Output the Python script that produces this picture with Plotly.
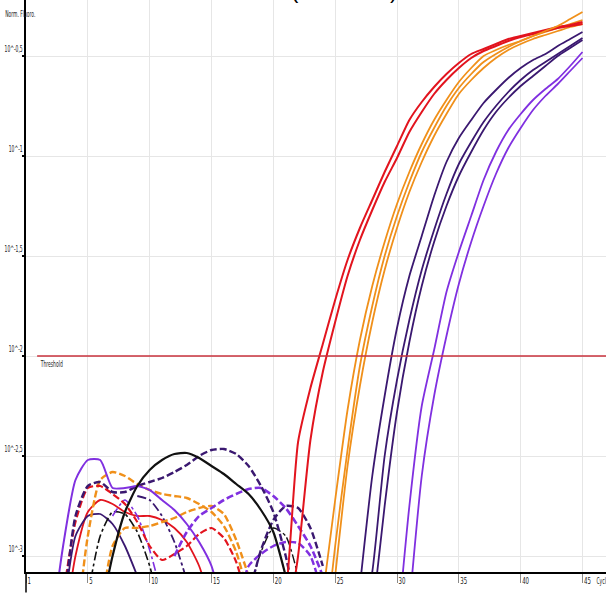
import numpy as np
import plotly.graph_objects as go

# ---------------- data (log10 of normalised fluorescence, read per cycle) ----------------
x_tick_vals = [0, 5, 10, 15, 20, 25, 30, 35, 40, 45]
x_tick_text = ["1", "5", "10", "15", "20", "25", "30", "35", "40", "45"]
y_tick_exp = [-0.5, -1, -1.5, -2, -2.5, -3]
y_tick_text = ["10^-0,5", "10^-1", "10^-1,5", "10^-2", "10^-2,5", "10^-3"]
threshold_value = 0.01

# amplification curves: (first cycle, values)
amp_red_1_start = 20
amp_red_1 = [-3.5, -3.2, -2.43, -2.16, -1.94, -1.72, -1.52, -1.36, -1.22, -1.08, -0.95, -0.82, -0.73,
             -0.655, -0.59, -0.535, -0.49, -0.465, -0.44, -0.415, -0.40, -0.385, -0.37, -0.355, -0.345, -0.33]
amp_red_2_start = 21
amp_red_2 = [-3.4, -3.0, -2.42, -2.08, -1.83, -1.6, -1.42, -1.27, -1.13, -1.01, -0.88, -0.78, -0.69,
             -0.62, -0.56, -0.51, -0.475, -0.45, -0.425, -0.405, -0.39, -0.375, -0.36, -0.35, -0.34]
amp_orange_1_start = 24
amp_orange_1 = [-3.2, -2.72, -2.27, -1.92, -1.65, -1.43, -1.24, -1.08, -0.94, -0.82, -0.72, -0.63, -0.56,
                -0.5, -0.47, -0.445, -0.425, -0.40, -0.375, -0.35, -0.315, -0.28]
amp_orange_2_start = 24
amp_orange_2 = [-3.5, -2.95, -2.47, -2.05, -1.75, -1.5, -1.3, -1.13, -0.98, -0.86, -0.75, -0.66, -0.59,
                -0.53, -0.49, -0.455, -0.425, -0.40, -0.38, -0.36, -0.34, -0.32]
amp_orange_3_start = 25
amp_orange_3 = [-3.1, -2.55, -2.15, -1.83, -1.57, -1.36, -1.18, -1.03, -0.9, -0.79, -0.69, -0.62, -0.56,
                -0.51, -0.47, -0.44, -0.415, -0.395, -0.375, -0.355, -0.34]
amp_dark_1_start = 27
amp_dark_1 = [-3.15, -2.6, -2.2, -1.86, -1.6, -1.4, -1.2, -1.03, -0.91, -0.82, -0.735, -0.67, -0.61,
              -0.56, -0.52, -0.49, -0.45, -0.415, -0.38]
amp_dark_2_start = 27
amp_dark_2 = [-3.4, -3.08, -2.5, -2.12, -1.82, -1.57, -1.37, -1.19, -1.04, -0.93, -0.83, -0.75, -0.68,
              -0.62, -0.57, -0.53, -0.49, -0.45, -0.41]
amp_dark_3_start = 28
amp_dark_3 = [-3.3, -2.75, -2.28, -1.93, -1.65, -1.43, -1.25, -1.1, -0.98, -0.87, -0.78, -0.71, -0.65,
              -0.6, -0.55, -0.5, -0.46, -0.42]
amp_purple_1_start = 30
amp_purple_1 = [-3.4, -2.75, -2.25, -1.97, -1.68, -1.48, -1.3, -1.12, -0.98, -0.87, -0.79, -0.72,
                -0.665, -0.615, -0.55, -0.48]
amp_purple_2_start = 31
amp_purple_2 = [-3.25, -2.6, -2.2, -1.9, -1.64, -1.43, -1.25, -1.09, -0.96, -0.86, -0.77, -0.7, -0.64,
                -0.575, -0.51]

# negative / baseline traces
base_purple_a_start = 2
base_purple_a = [-3.4, -2.95, -2.62, -2.52, -2.52, -2.66, -2.66, -2.65, -2.67, -2.72, -2.77, -2.84,
                 -2.93, -3.05, -3.3]
base_black_a_start = 6
base_black_a = [-3.3, -3.0, -2.78, -2.65, -2.57, -2.52, -2.49, -2.485, -2.51, -2.55, -2.59, -2.64,
                -2.69, -2.77, -2.88, -3.1]
base_dark_a_start = 3
base_dark_a = [-3.3, -2.8, -2.65, -2.63, -2.68, -2.68, -2.65, -2.63, -2.61, -2.58, -2.545, -2.5, -2.47,
               -2.465, -2.49, -2.55, -2.65, -2.78, -3.0, -3.3]
base_purple_b_start = 12
base_purple_b = [-3.0, -2.88, -2.8, -2.76, -2.72, -2.69, -2.665, -2.66, -2.7, -2.76, -2.85, -2.95, -3.1]
base_dark_b_start = 18
base_dark_b = [-3.2, -2.97, -2.82, -2.75, -2.76, -2.86, -3.05]
base_purple_c_start = 17
base_purple_c = [-3.3, -3.05, -2.99, -2.95, -2.93, -2.935, -3.0, -3.2]
base_orange_a_start = 4
base_orange_a = [-3.4, -2.9, -2.62, -2.58, -2.6, -2.64, -2.67, -2.69, -2.7, -2.71, -2.74, -2.78,
                 -2.85, -2.98, -3.2]
base_orange_b_start = 6
base_orange_b = [-3.3, -2.95, -2.86, -2.86, -2.85, -2.83, -2.81, -2.78, -2.76, -2.75, -2.79, -2.92, -3.1]
base_red_a_start = 3
base_red_a = [-3.2, -2.83, -2.66, -2.65, -2.69, -2.74, -2.83, -2.95, -3.02, -2.99, -2.95, -2.89, -2.86,
              -2.91, -3.03, -3.25]
base_red_b_start = 3
base_red_b = [-3.4, -3.0, -2.78, -2.72, -2.74, -2.78, -2.8, -2.8, -2.82, -2.86, -2.93, -3.05, -3.25]
base_dark_c_start = 3
base_dark_c = [-3.3, -2.9, -2.8, -2.79, -2.84, -2.95, -3.1]
base_black_b_start = 5
base_black_b = [-3.2, -2.9, -2.78, -2.79, -2.88, -3.05, -3.3]
base_purple_d_start = 7
base_purple_d = [-2.8, -2.72, -2.8, -2.97, -3.2]
base_dark_d_start = 9
base_dark_d = [-2.7, -2.72, -2.8, -2.93, -3.12]
base_black_c_start = 18
base_black_c = [-3.2, -2.98, -2.86, -2.9, -3.1]

# ---------------- styling ----------------
RED = "#e2141e"
ORANGE = "#f0901a"
DARK = "#3a1870"
PURPLE = "#8030e0"
BLACK = "#111111"
NARROW = "Liberation Sans Narrow, DejaVu Sans Condensed, Arial Narrow, sans-serif"

fig = go.Figure()


def add_curve(start, values, color, width=1.8, dash="solid"):
    cyc = np.arange(start, start + len(values))
    fig.add_trace(go.Scatter(
        x=cyc, y=10 ** np.array(values, dtype=float), mode="lines",
        line=dict(color=color, width=width, dash=dash, shape="spline", smoothing=0.6),
        hoverinfo="skip", showlegend=False))


DASH = "7px,3px"
# baseline curves
add_curve(base_red_b_start, base_red_b, RED, 1.8, "solid")
add_curve(base_dark_c_start, base_dark_c, DARK, 1.8, "solid")
add_curve(base_black_b_start, base_black_b, BLACK, 1.6, "dashdot")
add_curve(base_black_c_start, base_black_c, BLACK, 1.4, "dashdot")
add_curve(base_purple_d_start, base_purple_d, PURPLE, 1.6, "dashdot")
add_curve(base_dark_d_start, base_dark_d, DARK, 1.8, "dashdot")
add_curve(base_orange_b_start, base_orange_b, ORANGE, 2.4, DASH)
add_curve(base_orange_a_start, base_orange_a, ORANGE, 2.4, DASH)
add_curve(base_red_a_start, base_red_a, RED, 2.2, DASH)
add_curve(base_purple_c_start, base_purple_c, PURPLE, 2.4, DASH)
add_curve(base_dark_b_start, base_dark_b, DARK, 2.4, DASH)
add_curve(base_purple_b_start, base_purple_b, PURPLE, 2.6, DASH)
add_curve(base_dark_a_start, base_dark_a, DARK, 2.4, DASH)
add_curve(base_purple_a_start, base_purple_a, PURPLE, 2.0, "solid")
add_curve(base_black_a_start, base_black_a, BLACK, 2.2, "solid")

# amplification curves
add_curve(amp_purple_2_start, amp_purple_2, PURPLE)
add_curve(amp_purple_1_start, amp_purple_1, PURPLE)
add_curve(amp_dark_3_start, amp_dark_3, DARK)
add_curve(amp_dark_2_start, amp_dark_2, DARK)
add_curve(amp_dark_1_start, amp_dark_1, DARK)
add_curve(amp_orange_3_start, amp_orange_3, ORANGE)
add_curve(amp_orange_2_start, amp_orange_2, ORANGE)
add_curve(amp_red_2_start, amp_red_2, RED, 2.0)
add_curve(amp_red_1_start, amp_red_1, RED, 2.0)
add_curve(amp_orange_1_start, amp_orange_1, ORANGE)

# threshold
fig.add_trace(go.Scatter(x=[0.9, 47], y=[threshold_value, threshold_value], mode="lines",
                         line=dict(color="#c8323c", width=1.6), hoverinfo="skip", showlegend=False))

fig.update_layout(
    width=606, height=593,
    margin=dict(l=26, r=0, t=0, b=21, autoexpand=False),
    paper_bgcolor="white", plot_bgcolor="white",
    showlegend=False,
    xaxis=dict(range=[0, 46.9], tickvals=x_tick_vals, ticktext=x_tick_text, automargin=False,
               showgrid=True, gridcolor="#e6e6e6", gridwidth=1, zeroline=False,
               showline=True, linecolor="black", linewidth=2,
               ticks="outside", ticklen=9, tickcolor="#8a8a8a", tickwidth=1,
               ticklabelposition="outside right",
               tickfont=dict(family=NARROW, size=8, color="#222")),
    yaxis=dict(type="log", range=[-3.08, -0.22], automargin=False,
               tickvals=[10 ** v for v in y_tick_exp], ticktext=y_tick_text,
               showgrid=True, gridcolor="#e6e6e6", gridwidth=1, zeroline=False,
               showline=True, linecolor="black", linewidth=1.5,
               ticks="outside", ticklen=2, tickcolor="black", tickwidth=2,
               ticklabelposition="outside top", ticklabelstandoff=0,
               tickfont=dict(family=NARROW, size=8, color="#222")),
    font=dict(family=NARROW),
)

# y axis line running a little below the x axis, as in the original
fig.add_shape(type="line", xref="paper", yref="paper", x0=0, x1=0, y0=0, y1=-0.036,
              line=dict(color="black", width=1.5))

fig.add_annotation(text="Norm. Fluoro.", xref="paper", yref="paper", x=0, y=1,
                   xanchor="center", yanchor="top", xshift=-6, yshift=-8, showarrow=False,
                   font=dict(family=NARROW, size=8, color="#222"))
fig.add_annotation(text="Threshold", xref="x", yref="y", x=2.06, y=-2,
                   xanchor="center", yanchor="top", yshift=-2, showarrow=False,
                   font=dict(family=NARROW, size=8, color="#222"))
fig.add_annotation(text="Cycles", xref="x", yref="paper", x=46.7, y=0,
                   xanchor="center", yanchor="top", yshift=-3, showarrow=False,
                   font=dict(family=NARROW, size=8, color="#222"))
fig.add_annotation(text="(" + "\u00a0" * 15 + ")", xref="paper", yref="paper", x=0.548, y=1,
                   xanchor="center", yanchor="bottom", yshift=-5, showarrow=False,
                   font=dict(family="Liberation Sans, Arial, sans-serif", size=22, color="black"))

# condensed lettering like the original software (text stays real SVG text)
post = """
document.body.style.margin='0';document.body.style.overflow='hidden';
function squeeze(t, f){var w=t.getComputedTextLength(); if(w>0){t.setAttribute('textLength',(w*f).toFixed(1));t.setAttribute('lengthAdjust','spacingAndGlyphs');}}
document.querySelectorAll('.ytick text').forEach(function(t){squeeze(t,0.62);});
document.querySelectorAll('.xtick text').forEach(function(t){squeeze(t,0.75);});
document.querySelectorAll('.annotation-text').forEach(function(t){
  if(t.textContent.indexOf('(')<0){squeeze(t,0.62);}
});
"""
fig.write_html("out.html", post_script=post, config={"displayModeBar": False})
